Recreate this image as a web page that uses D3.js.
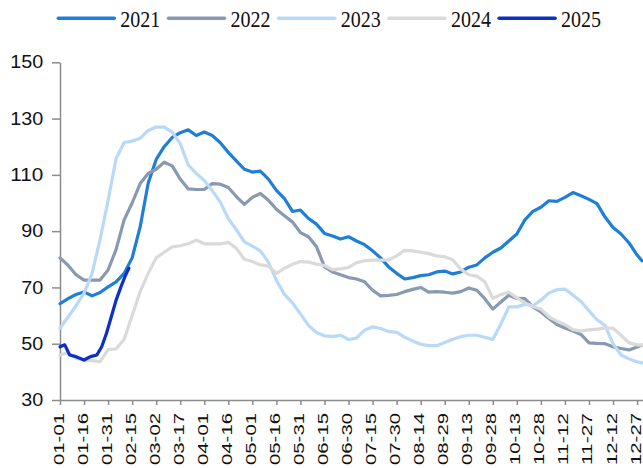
<!DOCTYPE html>
<html>
<head>
<meta charset="utf-8">
<script src="https://cdn.jsdelivr.net/npm/d3@7"></script>
<style>
  html, body { margin: 0; padding: 0; background: #fff; }
  svg { display: block; }
</style>
</head>
<body>
<svg id="chart" width="643" height="468"></svg>
<script>
// ---- data ----
const seriesNames = ["2021", "2022", "2023", "2024", "2025"];
const seriesColors = ["#1f7fd6", "#8899b2", "#b8d9f7", "#dadada", "#0b2fc8"];

// day-of-year offsets (from 01-01) of the sampled points
const sampleDays = [0,5,10,15,20,25,30,35,40,45,50,55,60,65,70,75,80,85,90,95,
  100,105,110,115,120,125,130,135,140,145,150,155,160,165,170,175,180,185,190,195,
  200,205,210,215,220,225,230,235,240,245,250,255,260,265,270,275,280,285,290,295,
  300,305,310,315,320,325,330,335,340,345,350,355,360,363];

const values2021 = [64.2,66,67.5,68.4,67,68.2,70.2,72,75,80.5,
  91.5,107,115.5,120,123.3,125,126,124,125.2,124,
  121.4,118,115,112,111,111.3,108.5,104.5,101.6,97,
  97.5,94.5,92.5,89.2,88.3,87.2,88,86.5,85.2,83,
  80.5,77.3,75,73,73.5,74.2,74.5,75.5,75.8,74.8,
  75.5,77.2,78,80.5,82.5,84,86.5,89,94,97,
  98.5,100.8,100.6,102,103.7,102.6,101.3,99.8,95,91.3,
  89,85.8,81.5,79.5];

const values2022 = [80.5,77.9,74.5,72.6,72.6,72.6,76.2,83.5,94,100,
  106.9,110.5,112,114.5,113.2,108.5,105,104.8,104.8,106.9,
  106.7,105.5,102.3,99.5,102,103.4,101,97.8,95.5,93.3,
  89.5,88,84.5,77.3,75.5,74.5,73.5,73,72,69,
  67,67.2,67.5,68.5,69.3,70,68.3,68.5,68.3,68,
  68.5,69.8,69,66,62.3,64.8,67.2,66.1,66,63.1,
  61.3,59,56.8,55.6,54.5,53.3,50.3,50.1,50,48.9,
  48.3,47.8,48.8,49.5];

const values2023 = [55.5,59.5,63.5,68,75,87,101,115.8,121.5,122,
  123,125.8,127,127,125.2,121.1,113.5,110.5,108,104.4,
  100.3,94.5,90.5,86.2,84.7,83,79,72.5,67.5,64.5,
  60.6,56.5,54,52.8,52.5,53,51.5,52,54.8,56,
  55.4,54.3,54,52.3,51,49.8,49.3,49.3,50.4,51.6,
  52.5,53,53,52.3,51.5,57,63.1,63.1,64,63.5,
  65.5,68,69.2,69.4,67.3,65,61.7,58.5,56.5,50,
  46,44.6,43.6,43.2];

const values2024 = [46,46.8,44.8,44.2,44,43.6,47.9,48.2,51.5,60,
  68.5,75,80.5,82.5,84.4,84.8,85.5,86.8,85.5,85.5,
  85.5,86,83.9,80,79.2,78,77.6,75,76.8,78.2,
  79.2,79,78.3,77.8,76.3,76.6,77.1,78.8,79.5,79.7,
  79.7,79.8,81.2,83.2,83,82.5,82,81.2,80.9,79.8,
  76.5,74.5,74,72,66.1,67.5,68.3,66.3,64.5,63.2,
  62.3,59.5,58,56.8,55,54.5,54.9,55.2,55.6,55.5,
  53,50.3,49.6,49.5];

const days2025 = [0,3,6,10,15,19,23,26,29,32,35,38,41,43];
const values2025 = [48.9,49.6,46,45.4,44.2,45.4,46,48.9,53.7,59.6,65.5,70.2,74.5,76.8];

const yTicks = [30, 50, 70, 90, 110, 130, 150];
const xTickDays = [0,15,30,45,60,75,90,105,120,135,150,165,180,195,210,225,240,255,270,285,300,315,330,345,360];

// ---- build ----
const baseDate = new Date(2023, 0, 1);
const toDate = d => d3.timeDay.offset(baseDate, d);

const svg = d3.select("#chart");

const x = d3.scaleTime()
  .domain([toDate(0), toDate(364)])
  .range([60, 643.5]);
const y = d3.scaleLinear()
  .domain([30, 150])
  .range([400, 62.3]);

const series = [
  { name: seriesNames[0], color: seriesColors[0], pts: sampleDays.map((d, i) => [d, values2021[i]]) },
  { name: seriesNames[1], color: seriesColors[1], pts: sampleDays.map((d, i) => [d, values2022[i]]) },
  { name: seriesNames[2], color: seriesColors[2], pts: sampleDays.map((d, i) => [d, values2023[i]]) },
  { name: seriesNames[3], color: seriesColors[3], pts: sampleDays.map((d, i) => [d, values2024[i]]) },
  { name: seriesNames[4], color: seriesColors[4], pts: days2025.map((d, i) => [d, values2025[i]]) }
];

const axisColor = "#8c8c8c";

// Y axis
const yAxis = svg.append("g")
  .attr("transform", "translate(60,0)")
  .call(d3.axisLeft(y).tickValues(yTicks).tickSize(8).tickSizeOuter(0).tickPadding(8.7));
yAxis.select(".domain").attr("stroke", axisColor).attr("stroke-width", 1.5);
yAxis.selectAll(".tick line").attr("stroke", axisColor).attr("stroke-width", 1.5);
yAxis.selectAll(".tick text")
  .attr("fill", "#111")
  .style("font-family", "'Liberation Sans', Arial, sans-serif")
  .style("font-size", "17.5px")
  .attr("textLength", function(d) { return String(d).length * 11; })
  .attr("lengthAdjust", "spacingAndGlyphs");

// X axis
const fmt = d3.timeFormat("%m-%d");
const xAxis = svg.append("g")
  .attr("transform", "translate(0,400)")
  .call(d3.axisBottom(x).tickValues(xTickDays.map(toDate)).tickFormat(fmt).tickSize(5).tickSizeOuter(0));
xAxis.select(".domain").attr("stroke", axisColor).attr("stroke-width", 1.5);
xAxis.selectAll(".tick line").attr("stroke", axisColor).attr("stroke-width", 1.5);
xAxis.selectAll(".tick text")
  .attr("fill", "#111")
  .style("font-family", "'Liberation Sans', Arial, sans-serif")
  .style("font-size", "14.5px")
  .attr("transform", "rotate(-90)")
  .attr("text-anchor", "end")
  .attr("x", -13)
  .attr("y", 3)
  .attr("dy", 0)
  .attr("textLength", 52)
  .attr("lengthAdjust", "spacingAndGlyphs");

// Lines
const line = d3.line()
  .x(p => x(toDate(p[0])))
  .y(p => y(p[1]));

svg.append("g").selectAll("path")
  .data(series)
  .join("path")
  .attr("d", s => line(s.pts))
  .attr("fill", "none")
  .attr("stroke", s => s.color)
  .attr("stroke-width", 3.2)
  .attr("stroke-linejoin", "round")
  .attr("stroke-linecap", "round");

// Legend
const legend = svg.append("g");
const legendX = d3.scaleLinear().domain([0, 1]).range([58.3, 168.5]);
const items = legend.selectAll("g")
  .data(series)
  .join("g")
  .attr("transform", (s, i) => `translate(${legendX(i)},0)`);
items.append("line")
  .attr("x1", 0).attr("x2", 56)
  .attr("y1", 18.3).attr("y2", 18.3)
  .attr("stroke", s => s.color)
  .attr("stroke-width", 3.5)
  .attr("stroke-linecap", "round");
items.append("text")
  .attr("x", 62)
  .attr("y", 26.7)
  .attr("fill", "#111")
  .style("font-family", "'Liberation Serif', 'Times New Roman', serif")
  .style("font-size", "24px")
  .attr("textLength", 40)
  .attr("lengthAdjust", "spacingAndGlyphs")
  .text(s => s.name);
</script>
</body>
</html>
